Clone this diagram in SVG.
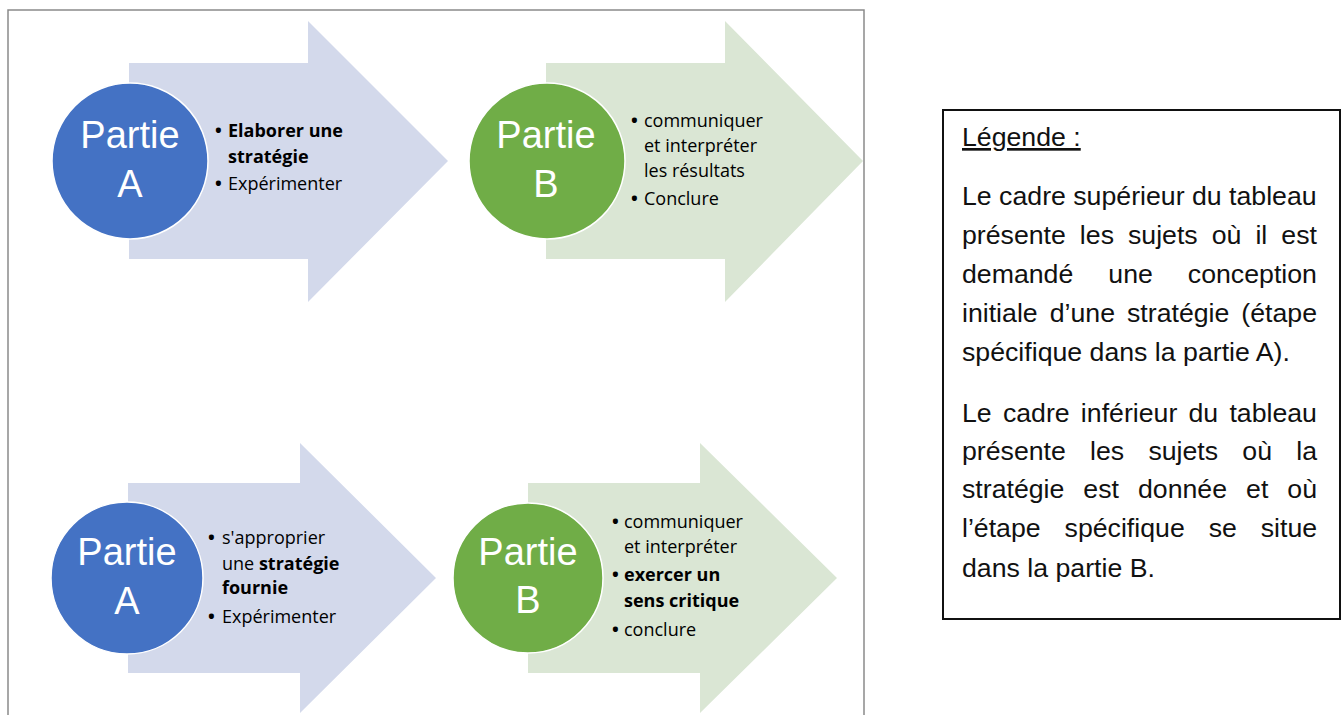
<svg xmlns="http://www.w3.org/2000/svg" width="1344" height="715" viewBox="0 0 1344 715">
<style>
.arrA{fill:#D3D9EB}
.arrB{fill:#DAE6D4}
.cirA{fill:#4472C4;stroke:#ffffff;stroke-width:1.5}
.cirB{fill:#70AD47;stroke:#ffffff;stroke-width:1.5}
.ttl{font-family:"Liberation Sans",Arial,sans-serif;font-size:38px;fill:#ffffff;text-anchor:middle}
.bt{font-family:"Open Sans","Noto Sans",sans-serif;font-size:18px;fill:#000000;font-weight:500}
.bu{font-family:"Open Sans","Noto Sans",sans-serif;font-size:18px;fill:#000000;font-weight:bold}
.b{font-weight:bold}
.leg{font-family:"Liberation Sans",Arial,sans-serif;font-size:26.7px;fill:#111111}
</style>
<rect width="1344" height="715" fill="#ffffff"/>
<path d="M8,715 V10 H864 V715" fill="none" stroke="#8a8a8a" stroke-width="1.5"/>
<g id="connectors"></g>

<g id="top-partie-a">
<polygon class="arrA" points="129,63 308,63 308,21 448,161 308,302 308,259 129,259"/>
<circle class="cirA" cx="130" cy="161" r="78"/>
<text class="ttl" x="130" y="148">Partie</text>
<text class="ttl" x="130" y="197">A</text>
<text class="bu" x="215" y="137">•</text>
<text class="bt b" x="228" y="137">Elaborer une</text>
<text class="bt b" x="228" y="163">stratégie</text>
<text class="bu" x="215" y="190">•</text>
<text class="bt" x="228" y="190">Expérimenter</text>
</g>

<g id="top-partie-b">
<polygon class="arrB" points="546,63 725,63 725,21 863,161 725,302 725,259 546,259"/>
<circle class="cirB" cx="547" cy="161" r="78"/>
<text class="ttl" x="546" y="148">Partie</text>
<text class="ttl" x="546" y="197">B</text>
<text class="bu" x="631" y="127">•</text>
<text class="bt" x="644" y="127">communiquer</text>
<text class="bt" x="644" y="152">et interpréter</text>
<text class="bt" x="644" y="177">les résultats</text>
<text class="bu" x="631" y="205">•</text>
<text class="bt" x="644" y="205">Conclure</text>
</g>

<g id="bottom-partie-a">
<polygon class="arrA" points="128,483 300,483 300,443 436,578 300,713 300,673 128,673"/>
<circle class="cirA" cx="127" cy="578" r="76"/>
<text class="ttl" x="127" y="565">Partie</text>
<text class="ttl" x="127" y="614">A</text>
<text class="bu" x="208" y="544">•</text>
<text class="bt" x="222" y="544">s'approprier</text>
<text class="bt" x="222" y="570">une <tspan class="b">stratégie</tspan></text>
<text class="bt b" x="222" y="594">fournie</text>
<text class="bu" x="208" y="623">•</text>
<text class="bt" x="222" y="623">Expérimenter</text>
</g>

<g id="bottom-partie-b">
<polygon class="arrB" points="528,483 700,483 700,443 837,578 700,713 700,673 528,673"/>
<circle class="cirB" cx="528" cy="578" r="75"/>
<text class="ttl" x="528" y="565">Partie</text>
<text class="ttl" x="528" y="613">B</text>
<text class="bu" x="612" y="528">•</text>
<text class="bt" x="624" y="528">communiquer</text>
<text class="bt" x="624" y="553">et interpréter</text>
<text class="bu" x="612" y="581">•</text>
<text class="bt b" x="624" y="581">exercer un</text>
<text class="bt b" x="624" y="607">sens critique</text>
<text class="bu" x="612" y="636">•</text>
<text class="bt" x="624" y="636">conclure</text>
</g>

<g id="legende">
<rect x="943" y="110" width="397" height="509" fill="#ffffff" stroke="#111111" stroke-width="2"/>
<text class="leg" x="962" y="146" text-decoration="underline">Légende :</text>
<text class="leg" x="962" y="205">Le cadre supérieur du tableau</text>
<text class="leg" x="962" y="244" word-spacing="6.6">présente les sujets où il est</text>
<text class="leg" x="962" y="283" word-spacing="27.6">demandé une conception</text>
<text class="leg" x="962" y="322" word-spacing="4.6">initiale d’une stratégie (étape</text>
<text class="leg" x="962" y="361">spécifique dans la partie A).</text>
<text class="leg" x="962" y="422" word-spacing="3.8">Le cadre inférieur du tableau</text>
<text class="leg" x="962" y="460" word-spacing="16.8">présente les sujets où la</text>
<text class="leg" x="962" y="498" word-spacing="11.6">stratégie est donnée et où</text>
<text class="leg" x="962" y="537" word-spacing="16.5">l’étape spécifique se situe</text>
<text class="leg" x="962" y="577">dans la partie B.</text>
</g>
</svg>
